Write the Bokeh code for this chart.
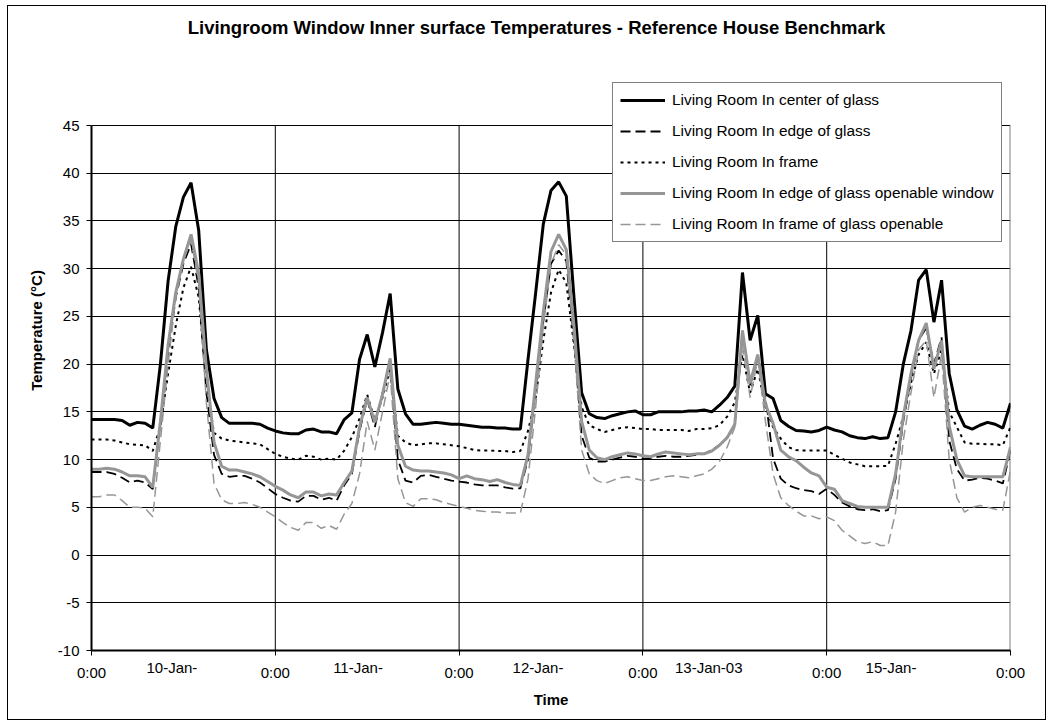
from bokeh.plotting import figure
from bokeh.models import (FixedTicker, PrintfTickFormatter, Legend, LegendItem,
                          Label, Range1d, LinearAxis)
from bokeh.embed import file_html
from bokeh.resources import INLINE

# ---------------- data (hourly values, 0..120 h) ----------------
hours = list(range(121))

center_glass = [
    14.2, 14.2, 14.2, 14.2, 14.1, 13.6, 13.9, 13.8, 13.3,
    20.0, 28.7, 34.4, 37.5, 39.0, 34.0, 21.5, 16.4,
    14.4, 13.8, 13.8, 13.8, 13.8, 13.7, 13.3, 13.0,
    12.8, 12.7, 12.7, 13.1, 13.2, 12.9, 12.9, 12.7,
    14.2, 14.9, 20.5, 23.1, 19.7, 23.3, 27.4, 17.4,
    14.8, 13.7, 13.7, 13.8, 13.9, 13.8, 13.7, 13.7,
    13.6, 13.5, 13.4, 13.4, 13.3, 13.3, 13.2, 13.2,
    20.5, 27.5, 34.7, 38.2, 39.1, 37.6, 27.0, 17.0,
    14.8, 14.4, 14.3, 14.6, 14.8, 15.0, 15.1, 14.7,
    14.7, 15.0, 15.0, 15.0, 15.0, 15.1, 15.1, 15.2,
    15.0, 15.7, 16.5, 17.7, 29.6, 22.5, 25.1, 16.9,
    16.4, 14.1, 13.5, 13.05, 13.0, 12.9, 13.05, 13.4,
    13.1, 12.9, 12.5, 12.3, 12.2, 12.4, 12.2, 12.3,
    15.0, 20.0, 23.5, 28.8, 29.9, 24.4, 28.8, 19.0,
    15.2, 13.5, 13.2, 13.6, 13.9, 13.7, 13.3, 15.9,
]

edge_glass = [
    8.7, 8.7, 8.7, 8.5, 8.1, 7.6, 7.8, 7.6, 6.9,
    14.0, 21.0, 27.0, 30.5, 32.6, 28.0, 17.0, 10.5,
    8.5, 8.2, 8.3, 8.3, 8.0, 7.6, 7.0, 6.4,
    6.0, 5.7, 5.6, 6.2, 6.2, 5.8, 6.0, 5.7,
    7.3, 8.5, 13.0, 16.3, 13.4, 17.0, 20.0, 10.0,
    7.8, 7.6, 8.3, 8.4, 8.2, 8.0, 7.8, 7.7,
    7.6, 7.4, 7.3, 7.3, 7.3, 7.1, 6.95, 7.0,
    10.0, 17.5, 24.5, 30.5, 31.9, 30.8, 22.5, 12.5,
    10.2, 9.8, 9.8, 10.0, 10.2, 10.4, 10.3, 10.1,
    10.1, 10.3, 10.4, 10.3, 10.3, 10.4, 10.5, 10.6,
    11.0, 11.5, 12.3, 13.7, 23.5, 17.8, 20.7, 16.5,
    10.1, 8.0, 7.3, 7.0, 6.8, 6.7, 6.4, 6.95,
    6.3, 5.5, 5.1, 4.8, 4.7, 4.8, 4.6, 4.7,
    8.0, 14.0, 18.5, 22.5, 23.8, 20.0, 22.8, 12.0,
    9.0, 7.8, 7.9, 8.1, 8.0, 7.8, 7.5, 11.0,
]

frame = [
    12.1, 12.1, 12.1, 12.0, 11.8, 11.6, 11.55, 11.5, 10.9,
    13.5, 19.0, 24.0, 28.0, 30.2, 27.0, 18.0, 12.8,
    12.2, 12.0, 11.9, 11.8, 11.7, 11.6, 11.1, 10.6,
    10.3, 10.1, 10.0, 10.4, 10.3, 10.0, 10.1, 10.0,
    10.95, 12.35, 14.3, 16.8, 14.1, 16.5, 19.5, 12.5,
    11.8, 11.5, 11.6, 11.7, 11.7, 11.6, 11.5, 11.4,
    11.2, 11.0, 10.95, 10.95, 10.9, 10.9, 10.8, 10.9,
    13.0, 16.5, 22.5, 27.5, 29.9, 28.5, 22.0, 15.5,
    13.6, 13.2, 12.9, 13.1, 13.3, 13.4, 13.3, 13.2,
    13.2, 13.1, 13.1, 13.1, 13.1, 13.0, 13.2, 13.2,
    13.3, 13.6, 14.5, 16.0, 21.0, 17.0, 19.5, 15.5,
    13.4, 12.2, 11.3, 11.0, 10.95, 10.95, 10.95, 10.95,
    10.5, 10.1, 9.7, 9.5, 9.3, 9.3, 9.3, 9.35,
    11.65, 14.5, 18.0, 21.0, 22.3, 19.0, 21.5, 15.0,
    13.4, 11.8, 11.65, 11.65, 11.6, 11.6, 11.5, 13.4,
]

edge_openable = [
    9.0, 9.0, 9.1, 9.0, 8.7, 8.3, 8.3, 8.2, 7.1,
    14.0, 22.0, 27.5, 31.0, 33.6, 29.5, 19.5, 11.8,
    9.3, 8.9, 8.9, 8.7, 8.5, 8.2, 7.7, 7.2,
    6.8, 6.3, 6.0, 6.6, 6.6, 6.2, 6.4, 6.3,
    7.6, 8.8, 13.4, 16.5, 13.9, 16.8, 20.6, 11.5,
    9.3, 8.9, 8.8, 8.8, 8.7, 8.6, 8.4, 8.0,
    8.3, 8.0, 7.9, 7.7, 7.9, 7.6, 7.4, 7.3,
    10.5, 18.0, 25.5, 31.8, 33.6, 32.0, 24.0, 14.0,
    11.0, 10.2, 10.0, 10.3, 10.5, 10.7, 10.6, 10.4,
    10.3, 10.6, 10.8, 10.7, 10.6, 10.5, 10.6, 10.6,
    10.9, 11.5, 12.3, 13.7, 23.5, 18.0, 21.0, 15.8,
    13.8, 11.0, 10.3, 9.9, 9.2, 8.6, 8.3, 7.1,
    6.9, 5.7, 5.4, 5.1, 5.0, 5.0, 5.0, 5.0,
    8.5, 14.5, 19.0, 22.5, 24.3, 19.5, 22.5, 13.5,
    10.0, 8.3, 8.2, 8.2, 8.2, 8.2, 8.2, 11.3,
]

frame_openable = [
    6.1, 6.1, 6.3, 6.3, 5.7, 5.0, 5.0, 4.9, 4.0,
    12.0, 20.0, 27.0, 31.0, 33.0, 28.5, 16.0, 7.5,
    5.8, 5.4, 5.4, 5.5, 5.3, 5.0, 4.5, 4.0,
    3.4, 2.9, 2.6, 3.4, 3.4, 2.8, 3.1, 2.7,
    4.3, 5.4, 8.5, 14.0, 11.0, 15.0, 19.0, 8.0,
    5.5, 5.1, 5.9, 5.9, 5.8, 5.5, 5.3, 5.1,
    4.9, 4.7, 4.6, 4.5, 4.5, 4.4, 4.4, 4.4,
    8.0, 15.5, 24.0, 30.5, 32.5, 31.5, 22.5, 11.0,
    8.5, 7.8, 7.5, 7.8, 8.1, 8.2, 8.0, 7.8,
    7.8, 8.0, 8.2, 8.3, 8.2, 8.1, 8.3, 8.5,
    9.0, 9.8, 11.3, 13.4, 22.0, 16.5, 20.5, 14.0,
    8.5, 6.0, 5.2, 4.6, 4.1, 4.1, 3.8, 4.0,
    3.6, 2.6, 2.0, 1.4, 1.2, 1.4, 1.0, 1.0,
    4.5, 12.0, 17.0, 21.5, 22.5, 16.5, 21.0, 10.0,
    6.0, 4.5, 5.0, 5.2, 5.0, 4.8, 4.7, 8.9,
]

series_names = [
    "Living Room In center of glass",
    "Living Room In edge of glass",
    "Living Room In frame",
    "Living Room In edge of glass openable window",
    "Living Room In frame of glass openable",
]

midnight_ticks = [0, 24, 48, 72, 96, 120]
inner_midnights = [24, 48, 72, 96]
y_ticks = [-10, -5, 0, 5, 10, 15, 20, 25, 30, 35, 40, 45]
y_min, y_max = -10, 45
day_labels = ["10-Jan-", "11-Jan-", "12-Jan-", "13-Jan-03", "15-Jan-"]
day_label_hours = [10.5, 34.8, 58.3, 80.6, 104.4]

title_text = "Livingroom Window Inner surface Temperatures - Reference House Benchmark"
FONT = "Liberation Sans"

# ---------------- figure ----------------
# frame extends above the 45 line so that the legend and title fit inside it
p = figure(width=1039, height=715, output_backend="svg", toolbar_location=None,
           x_range=Range1d(0, 120), y_range=Range1d(-10, 57.05),
           min_border_left=83, min_border_right=37,
           min_border_top=4, min_border_bottom=71)
p.styles = {"border": "1px solid #000000", "margin-left": "7px",
            "margin-top": "5px"}
p.background_fill_color = "white"
p.border_fill_color = "white"
p.outline_line_color = None

# grids
p.xgrid.visible = False
p.ygrid.ticker = FixedTicker(ticks=y_ticks)
p.ygrid.grid_line_color = "#000000"
p.ygrid.grid_line_width = 1
# vertical grid lines at midnight (limited to plot area)
p.segment(x0=inner_midnights, y0=[y_min] * 4, x1=inner_midnights, y1=[y_max] * 4,
          line_color="#000000", line_width=1)
# plot-area right border
p.segment(x0=[120], y0=[y_min], x1=[120], y1=[y_max], line_color="#808080",
          line_width=2)

# axes
p.xaxis.ticker = FixedTicker(ticks=midnight_ticks)
p.xaxis.formatter = PrintfTickFormatter(format="0:00")
p.xaxis.bounds = (0, 120)
p.yaxis.ticker = FixedTicker(ticks=y_ticks)
p.yaxis.formatter = PrintfTickFormatter(format="%d")
p.yaxis.bounds = (y_min, y_max)
for ax in (p.xaxis, p.yaxis):
    ax.axis_line_color = "#000000"
    ax.axis_line_width = 2
    ax.major_tick_out = 5
    ax.major_tick_in = 0
    ax.major_tick_line_color = "#000000"
    ax.minor_tick_line_color = None
    ax.major_label_text_font = FONT
    ax.major_label_text_font_size = "15px"
    ax.major_label_text_color = "#000000"
    ax.axis_label_text_font = FONT
    ax.axis_label_text_font_size = "15px"
    ax.axis_label_text_font_style = "bold"
    ax.axis_label_text_color = "#000000"
p.xaxis.major_label_standoff = 8
p.yaxis.axis_label = "Temperature (\u00b0C)"
p.yaxis.major_label_standoff = 7
p.yaxis.axis_label_standoff = 10

# second bottom axis: the day labels and the "Time" title
date_axis = LinearAxis(ticker=FixedTicker(ticks=day_label_hours),
                       major_label_overrides=dict(zip(day_label_hours, day_labels)),
                       axis_label="Time")
date_axis.axis_line_color = None
date_axis.major_tick_line_color = None
date_axis.minor_tick_line_color = None
date_axis.major_tick_out = 0
date_axis.major_tick_in = 0
date_axis.major_label_standoff = -25
date_axis.major_label_text_font = FONT
date_axis.major_label_text_font_size = "15px"
date_axis.major_label_text_color = "#000000"
date_axis.axis_label_text_font = FONT
date_axis.axis_label_text_font_size = "15px"
date_axis.axis_label_text_font_style = "bold"
date_axis.axis_label_text_color = "#000000"
date_axis.axis_label_standoff = 12
p.add_layout(date_axis, "below")

# lines
r1 = p.line(hours, center_glass, line_color="#000000", line_width=3)
r2 = p.line(hours, edge_glass, line_color="#000000", line_width=1.8, line_dash="10 5")
r3 = p.line(hours, frame, line_color="#000000", line_width=2, line_dash="3 4")
r4 = p.line(hours, edge_openable, line_color="#969696", line_width=3)
r5 = p.line(hours, frame_openable, line_color="#969696", line_width=1.5, line_dash="10 5")

legend = Legend(items=[LegendItem(label=n, renderers=[r])
                       for n, r in zip(series_names, [r1, r2, r3, r4, r5])],
                location=(521, 408))
legend.label_text_font = FONT
legend.label_text_font_size = "15.4px"
legend.label_text_color = "#000000"
legend.glyph_width = 45
legend.glyph_height = 20
legend.label_height = 20
legend.spacing = 11
legend.padding = 7
legend.margin = 0
legend.label_standoff = 7
legend.border_line_color = "#000000"
legend.border_line_width = 1
legend.background_fill_color = "white"
legend.background_fill_alpha = 1
p.add_layout(legend)

# chart title (inside the extended frame, above the plot area)
p.add_layout(Label(x=58.1, y=55.27, text=title_text, text_align="center",
                   text_baseline="middle", text_font=FONT,
                   text_font_size="18.5px", text_font_style="bold",
                   text_color="#000000"))

open("out.html", "w").write(file_html(p, INLINE))
